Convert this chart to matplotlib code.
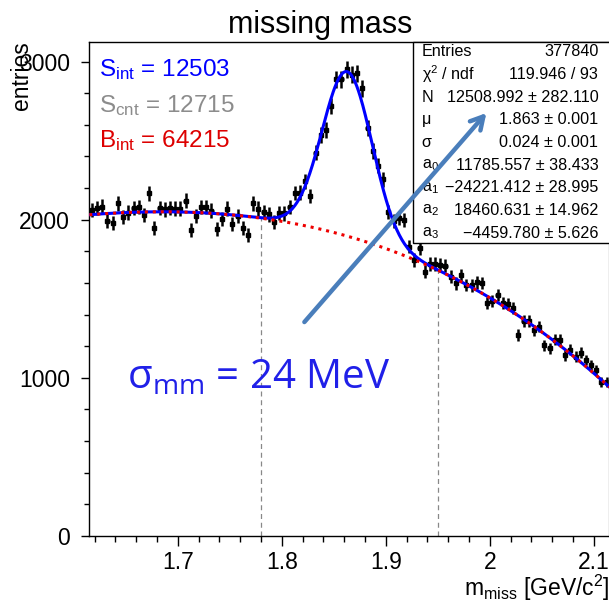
"""
Missing-mass spectrum with Gaussian + cubic background fit.
Draws the binned counts, the total fit and the background component,
the signal window and a ROOT-style statistics box.
"""

import numpy as np
import matplotlib
matplotlib.use("Agg")
import matplotlib.pyplot as plt
from matplotlib.ticker import MultipleLocator, FuncFormatter

plt.rcParams["font.family"] = ["Liberation Sans", "DejaVu Sans"]
plt.rcParams["mathtext.fontset"] = "custom"
plt.rcParams["mathtext.rm"] = "Liberation Sans"
plt.rcParams["mathtext.it"] = "Liberation Sans:italic"

# Histogram: 100 bins of 5 MeV between 1.615 and 2.115 GeV/c^2
X_LO, X_HI, N_BINS = 1.615, 2.115, 100
counts = [
    2062, 2075, 2083, 1990, 1978, 2104, 2015, 2045, 2076, 2080,
    2028, 2168, 1950, 2075, 2065, 2074, 2071, 2071, 2120, 1938,
    2025, 2080, 2080, 2058, 1944, 2004, 2070, 1971, 2025, 1946,
    1905, 2104, 2070, 2051, 2034, 1985, 2043, 2040, 2080, 2170,
    2172, 2245, 2150, 2425, 2536, 2565, 2720, 2888, 2890, 2952,
    2916, 2927, 2832, 2583, 2436, 2342, 2257, 2051, 1990, 2010,
    1999, 1830, 1746, 1820, 1672, 1720, 1720, 1714, 1710, 1640,
    1598, 1651, 1588, 1585, 1604, 1600, 1472, 1488, 1524, 1472,
    1468, 1440, 1271, 1360, 1360, 1300, 1324, 1205, 1187, 1240,
    1240, 1142, 1178, 1135, 1159, 1113, 1080, 1050, 973, 973,
]

# Fit results (gaus + pol3)
fit_n, fit_n_err = 12508.992, 282.110
fit_mu, fit_mu_err = 1.863, 0.001
fit_sigma, fit_sigma_err = 0.024, 0.001
poly_a = [11785.557, -24221.412, 18460.631, -4459.780]
poly_a_err = [38.433, 28.995, 14.962, 5.626]
entries = 377840
chi2, ndf = 119.946, 93

# Signal window and yields
window = [1.78, 1.95]
s_int, s_cnt, b_int = 12503, 12715, 64215
sigma_mm_mev = 24


def background(x):
    return sum(a * x ** k for k, a in enumerate(poly_a))


def total_fit(x, bin_w):
    gaus = np.exp(-0.5 * ((x - fit_mu) / fit_sigma) ** 2)
    return background(x) + fit_n * bin_w / (np.sqrt(2 * np.pi) * fit_sigma) * gaus


def plot():
    fig = plt.figure(figsize=(6.09, 6.02), dpi=100)
    ax = fig.add_axes([89.3 / 609, 66 / 602, 520 / 609, 494.3 / 602])

    edges = np.linspace(X_LO, X_HI, N_BINS + 1)
    bin_w = edges[1] - edges[0]
    centers = 0.5 * (edges[:-1] + edges[1:])
    y = np.array(counts, dtype=float)

    ax.errorbar(centers, y, yerr=np.sqrt(y), xerr=bin_w * 0.4, fmt="none",
                ecolor="black", elinewidth=1.8, capsize=0, zorder=2)
    ax.plot(centers, y, "s", color="black", ms=2.4, zorder=2)

    xf = np.linspace(X_LO, X_HI, 600)
    ax.plot(xf, total_fit(xf, bin_w), color="#0000ff", lw=2.2, zorder=3)
    ax.plot(xf, background(xf), color="#ee0000", lw=2.2,
            linestyle=(0, (1, 1.6)), zorder=4)

    # signal window edges, dashed up to the background level
    for xw in window:
        ax.plot([xw, xw], [0, background(xw)], color="#888888", lw=0.9,
                linestyle=(0, (4, 3)), zorder=1)

    ax.set_xlim(X_LO, X_HI)
    ax.set_ylim(0, 3126)
    ax.xaxis.set_major_locator(MultipleLocator(0.1))
    ax.xaxis.set_minor_locator(MultipleLocator(0.02))
    ax.yaxis.set_major_locator(MultipleLocator(1000))
    ax.yaxis.set_minor_locator(MultipleLocator(200))
    ax.xaxis.set_major_formatter(FuncFormatter(lambda v, _: f"{v:g}"))
    ax.tick_params(which="both", direction="out", top=False, right=False,
                   labelsize=16.5, width=1.0)
    ax.tick_params(axis="x", which="major", length=7, pad=4)
    ax.tick_params(axis="x", which="minor", length=4)
    ax.tick_params(axis="y", which="major", length=6, pad=8)
    ax.tick_params(axis="y", which="minor", length=3.5)
    for sp in ax.spines.values():
        sp.set_linewidth(1.0)
    ax.spines["right"].set_color("#aaaaaa")

    fig.text(320 / 609, 1 - 33.5 / 602, "missing mass", fontsize=22,
             ha="center", va="baseline")
    ax.set_ylabel("entries", fontsize=16.5, loc="top")
    ax.yaxis.set_label_coords(-0.108, 1.0)
    ax.set_xlabel(r"$\mathregular{m_{miss}}$ [GeV/c$^{\mathregular{2}}$]",
                  fontsize=16.5, loc="right")
    ax.xaxis.set_label_coords(1.0, -0.074)

    # yields in the upper-left corner
    yields = [
        (r"$\mathregular{S_{int}}$ = " + str(s_int), "#0000ff"),
        (r"$\mathregular{S_{cnt}}$ = " + str(s_cnt), "#8c8c8c"),
        (r"$\mathregular{B_{int}}$ = " + str(b_int), "#dd0000"),
    ]
    for k, (txt, col) in enumerate(yields):
        ax.text(0.019, 0.930 - k * 0.0715, txt, transform=ax.transAxes,
                color=col, fontsize=17.5, va="baseline", ha="left")

    # statistics box
    box = plt.Rectangle((413.3 / 609, 1 - 243.3 / 602), 0.33, (243.3 - 41.7) / 602,
                        transform=fig.transFigure, facecolor="white",
                        edgecolor="black", lw=1.0, zorder=5, clip_on=False)
    ax.add_patch(box)
    rows = [
        ("Entries", f"{entries}"),
        (r"$\mathregular{\chi^{2}}$ / ndf", f"{chi2:.3f} / {ndf}"),
        ("N", f"{fit_n:.3f} ± {fit_n_err:.3f}"),
        ("μ", f"{fit_mu:.3f} ± {fit_mu_err:.3f}"),
        ("σ", f"{fit_sigma:.3f} ± {fit_sigma_err:.3f}"),
    ]
    for k, (a, e) in enumerate(zip(poly_a, poly_a_err)):
        rows.append((r"$\mathregular{a_{%d}}$" % k,
                     f"{a:.3f} ± {e:.3f}".replace("-", "\u2212")))
    for k, (lab, val) in enumerate(rows):
        yy = 1 - (51.7 + k * 22.7) / 602
        ax.text(421.7 / 609, yy, lab, fontsize=11.6, va="center", ha="left",
                transform=fig.transFigure, zorder=6)
        ax.text(598.3 / 609, yy, val, fontsize=11.6, va="center", ha="right",
                transform=fig.transFigure, zorder=6)

    # resolution annotation
    ax.annotate("", xy=(1.9968, 2675), xytext=(1.8218, 1353),
                arrowprops=dict(arrowstyle="->,head_length=0.9,head_width=0.5",
                                color="#4a7ebb", lw=3.2, shrinkA=0, shrinkB=0),
                zorder=7, annotation_clip=False)
    ax.text(1.6515, 936, "σ$_{\\mathregular{mm}}$ = %d MeV" % sigma_mm_mev,
            fontsize=29, color="#2020e8", family=["Open Sans", "DejaVu Sans"],
            va="baseline", ha="left", zorder=7)

    fig.savefig("out.png", dpi=100)


if __name__ == "__main__":
    plot()
